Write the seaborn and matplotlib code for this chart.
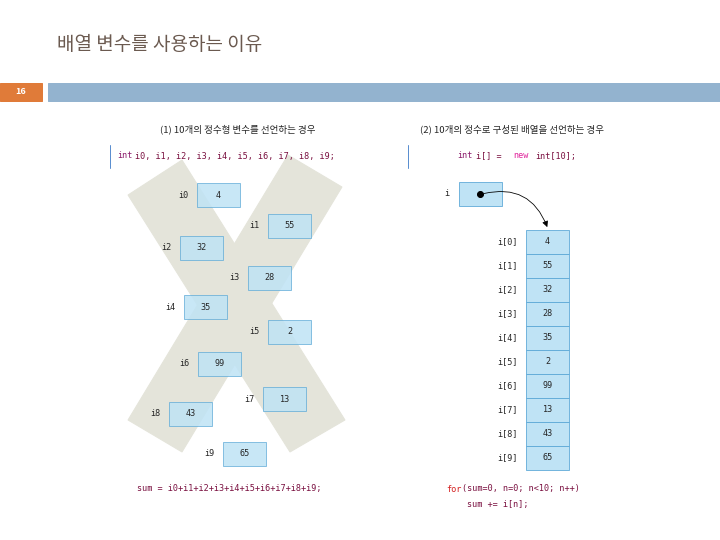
import numpy as np
import matplotlib.pyplot as plt
import matplotlib.patches as mpatches
import seaborn as sns

sns.set_theme(style="white")
plt.rcParams["font.family"] = ["Noto Sans CJK KR", "DejaVu Sans"]

# ── Data ──────────────────────────────────────────────────────────────────────
var_names = ["i0", "i1", "i2", "i3", "i4", "i5", "i6", "i7", "i8", "i9"]
values = [4, 55, 32, 28, 35, 2, 99, 13, 43, 65]
title_text = "배열 변수를 사용하는 이유"
page_no = "16"

# scattered box positions (pixel layout, left panel)
box_x = [197, 268, 180, 248, 184, 268, 198, 263, 169, 223]
box_y = [183, 214, 236, 266, 295, 320, 352, 387, 402, 442]

BOX_FC = "#bfe3f5"
BOX_EC = "#5aa7d6"

fig = plt.figure(figsize=(10, 7.5), dpi=72)
ax = fig.add_axes([0, 0, 1, 1])
ax.set_xlim(0, 720)
ax.set_ylim(540, 0)
ax.axis("off")

ax.text(57, 44, title_text, fontsize=19, color="#6b5a50", va="center", ha="left")

# header bar
ax.add_patch(mpatches.Rectangle((0, 83), 42, 18, color="#e07b39"))
ax.add_patch(mpatches.Rectangle((48, 83), 672, 18, color="#93b3cf"))
ax.text(21, 92, page_no, color="white", fontsize=9, fontweight="bold", ha="center", va="center")

# panel headings
ax.text(238, 129, "(1) 10개의 정수형 변수를 선언하는 경우", fontsize=9.5, ha="center", va="center")
ax.text(512, 129, "(2) 10개의 정수로 구성된 배열을 선언하는 경우", fontsize=9.5, ha="center", va="center")
ax.plot([110, 110], [145, 168], color="#5b8fd0", lw=1)
ax.plot([408, 408], [145, 168], color="#5b8fd0", lw=1)

mono = "DejaVu Sans Mono"
ax.text(117, 156, "int", color="#8b1a6b", fontsize=8.5, family=mono, va="center")
ax.text(135, 156, "i0, i1, i2, i3, i4, i5, i6, i7, i8, i9;", color="#7a1040",
        fontsize=8.5, family=mono, va="center")
ax.text(457, 156, "int", color="#8b1a6b", fontsize=8.5, family=mono, va="center")
ax.text(476, 156, "i[] =", color="#7a1040", fontsize=8.5, family=mono, va="center")
ax.text(513, 156, "new", color="#e0209a", fontsize=8.5, family=mono, va="center")
ax.text(535, 156, "int[10];", color="#7a1040", fontsize=8.5, family=mono, va="center")

# grey X behind the scattered variables
grey = "#e4e4da"
ax.add_patch(mpatches.Polygon([(128, 195), (182, 160), (345, 420), (290, 452)], color=grey, zorder=0))
ax.add_patch(mpatches.Polygon([(288, 155), (342, 187), (182, 452), (128, 420)], color=grey, zorder=0))

# left: individual variables
for name, v, x, y in zip(var_names, values, box_x, box_y):
    ax.add_patch(mpatches.Rectangle((x, y), 43, 24, fc=BOX_FC, ec=BOX_EC, lw=0.8, alpha=0.85))
    ax.text(x + 21.5, y + 12, str(v), fontsize=8.5, ha="center", va="center", family=mono)
    ax.text(x - 8, y + 12, name, fontsize=8.5, ha="right", va="center", family=mono)

ax.text(137, 489, "sum = i0+i1+i2+i3+i4+i5+i6+i7+i8+i9;", fontsize=8.5, family=mono,
        color="#7a1040", va="center")

# right: array reference
ax.text(444, 194, "i", fontsize=8.5, family=mono, va="center")
ax.add_patch(mpatches.Rectangle((459, 182), 43, 24, fc=BOX_FC, ec=BOX_EC, lw=0.8))
ax.plot(480, 194, "o", color="black", ms=6)
ax.annotate("", xy=(548, 229), xytext=(482, 194),
            arrowprops=dict(arrowstyle="-|>", color="black", lw=0.8,
                            connectionstyle="arc3,rad=-0.45"))

cell_h = 24
for k, v in enumerate(values):
    y = 230 + k * cell_h
    ax.add_patch(mpatches.Rectangle((526, y), 43, cell_h, fc=BOX_FC, ec=BOX_EC, lw=0.8))
    ax.text(547.5, y + cell_h / 2, str(v), fontsize=8.5, ha="center", va="center", family=mono)
    ax.text(518, y + cell_h / 2, f"i[{k}]", fontsize=8.5, ha="right", va="center", family=mono)

ax.text(446, 489, "for", fontsize=8.5, family=mono, color="#d42020", va="center")
ax.text(462, 489, "(sum=0, n=0; n<10; n++)", fontsize=8.5, family=mono, color="#7a1040", va="center")
ax.text(467, 504, "sum += i[n];", fontsize=8.5, family=mono, color="#7a1040", va="center")

fig.savefig("out.png", dpi=72)
